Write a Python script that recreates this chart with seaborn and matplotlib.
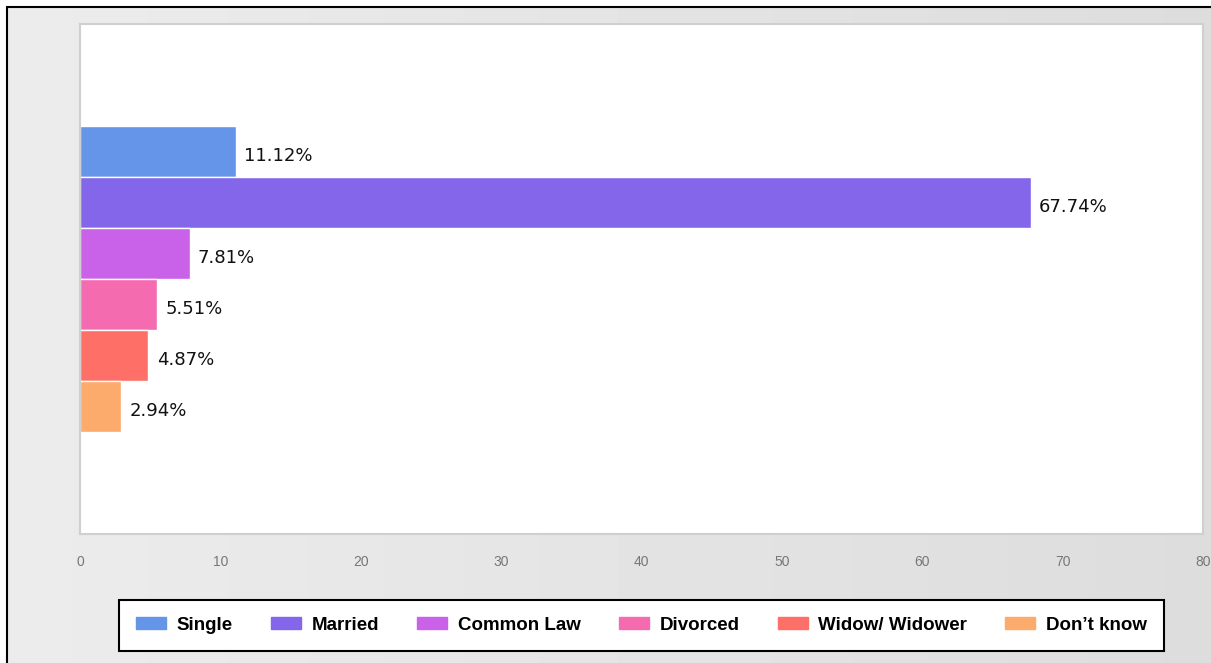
import matplotlib.pyplot as plt
import matplotlib.patches as mpatches
import numpy as np
import pandas as pd
import seaborn as sns

# data
statuses = ['Single', 'Married', 'Common Law', 'Divorced', 'Widow/ Widower', 'Don\u2019t know']
percents = [11.12, 67.74, 7.81, 5.51, 4.87, 2.94]
colors = ['#6495e9', '#8466ea', '#c962e8', '#f56bb0', '#fe7067', '#fdaa6d']
x_ticks = [0, 10, 20, 30, 40, 50, 60, 70, 80]

df = pd.DataFrame({'group': ['all'] * len(statuses),
                   'status': statuses,
                   'percent': percents})

sns.set_style('white')
plt.rcParams['font.family'] = ['DejaVu Sans']

W, H = 1211, 663
fig = plt.figure(figsize=(W / 100, H / 100), dpi=100)
fig.patch.set_facecolor('white')

# grey gradient background inside the outer frame
bg = fig.add_axes([7 / W, 0, 1 - 7 / W, 1 - 7 / H], zorder=-2)
grad = np.linspace(0.925, 0.865, 256).reshape(1, -1)
bg.imshow(grad, aspect='auto', cmap='gray', vmin=0, vmax=1, extent=[0, 1, 0, 1])
bg.set_axis_off()
fig.add_artist(mpatches.Rectangle((6.5 / W, -0.1), 1.2, 1.1 - 7 / H,
                                  transform=fig.transFigure, fill=False,
                                  edgecolor='black', linewidth=1.5))

ax = fig.add_axes([80 / W, 1 - 534 / H, (1203 - 80) / W, (534 - 24) / H])
ax.set_facecolor('white')

sns.barplot(data=df, x='percent', y='group', hue='status', hue_order=statuses,
            palette=colors, saturation=1, width=0.6, orient='h',
            edgecolor='white', linewidth=1, legend=False, ax=ax)

for cont in ax.containers:
    labels = ax.bar_label(cont, fmt='%.2f%%', padding=6, fontsize=13,
                          color='#111111', family='DejaVu Sans')
    for t in labels:
        t.xyann = (6, -3.5)  # sits a little below the bar centre

ax.set_xlim(0, 80)
ax.set_ylim(0.5, -0.5)
ax.set_xticks(x_ticks)
ax.set_yticks([])
ax.set_xlabel('')
ax.set_ylabel('')
ax.tick_params(axis='x', length=0, pad=15, labelsize=10, labelcolor='#777777')
for lab in ax.get_xticklabels():
    lab.set_family('Liberation Sans')
for sp in ax.spines.values():
    sp.set_visible(True)
    sp.set_color('#cfcfcf')
    sp.set_linewidth(1.5)

handles = [mpatches.Patch(color=c) for c in colors]
leg = ax.legend(handles, statuses, loc='upper center', bbox_to_anchor=(0.5, -0.129),
                ncol=6, frameon=True, fancybox=False, edgecolor='black',
                framealpha=1, borderaxespad=0, handlelength=1.6, handleheight=0.55,
                handletextpad=0.55, columnspacing=2.05, borderpad=0.9,
                labelcolor='black',
                prop={'family': 'Liberation Sans', 'weight': 'bold', 'size': 13.5})
leg.get_frame().set_linewidth(1.5)
leg.get_frame().set_facecolor('white')

fig.savefig('out.png', dpi=100)
